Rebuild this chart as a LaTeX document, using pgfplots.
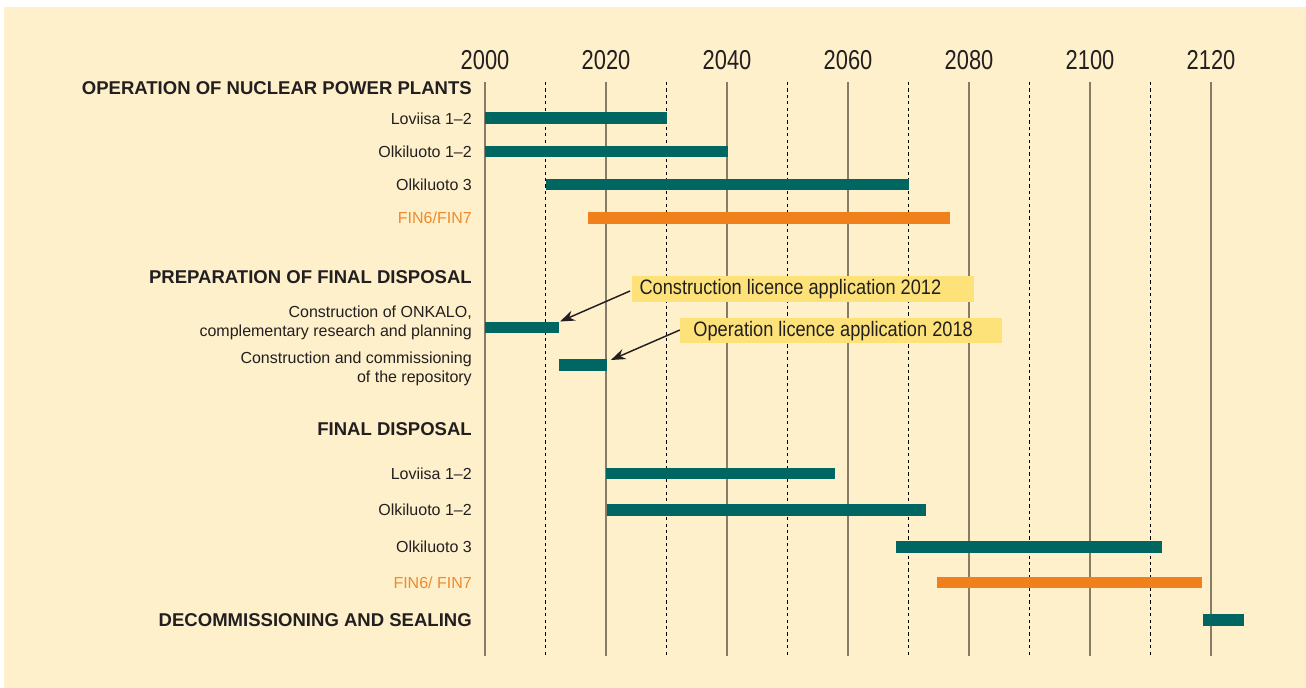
\documentclass[border=0pt]{standalone}
\usepackage{pgfplots}
\pgfplotsset{compat=1.18}
\usepackage{fontspec}
\setmainfont{Liberation Sans}
\newfontfamily\yearfont[FakeStretch=0.8]{Liberation Sans}
\newfontfamily\notefont[FakeStretch=0.87]{Liberation Sans}
\usetikzlibrary{arrows.meta}

\definecolor{cream}{HTML}{FEF0CB}
\definecolor{tealbar}{HTML}{006661}
\definecolor{orangebar}{HTML}{EF801C}
\definecolor{orangetxt}{HTML}{F08A2C}
\definecolor{notebox}{HTML}{FDE27A}
\definecolor{gridgray}{HTML}{857D68}
\definecolor{txt}{HTML}{231F20}

% x in years, y in pixel rows of the original (top = 0)
\begin{document}
\begin{tikzpicture}[
    tbar/.style={draw=tealbar, line width=8.6pt, line cap=butt},
    obar/.style={draw=orangebar, line width=8.6pt, line cap=butt},
    lab/.style={anchor=east, inner sep=0pt, align=right, text=txt,
        font=\fontsize{12}{14.2}\selectfont},
    head/.style={anchor=east, inner sep=0pt, text=txt,
        font=\bfseries\fontsize{13.9}{16}\selectfont},
]
\begin{axis}[
    scale only axis, width=979.5pt, height=516pt,
    xmin=1919.83, xmax=2135.7, ymin=0, ymax=688, y dir=reverse,
    axis lines=none, clip=false,
]
\fill[white] (axis cs:1919.83,0) rectangle (axis cs:2135.7,688);
\fill[cream] (axis cs:1920.5,7) rectangle (axis cs:2135.7,688);

% grid
\pgfplotsinvokeforeach{2010,2030,...,2110}{
  \draw[black, line width=0.7pt, dash pattern=on 2.4pt off 2.4pt]
    (axis cs:#1,82) -- (axis cs:#1,656);
}
\pgfplotsinvokeforeach{2000,2020,...,2120}{
  \draw[gridgray, line width=1.3pt] (axis cs:#1,82) -- (axis cs:#1,656);
  \node[text=txt, font=\yearfont\fontsize{20.5}{24}\selectfont]
    at (axis cs:#1,60) {#1};
}

% operation of nuclear power plants
\addplot[tbar, no marks] coordinates {(2000,118) (2030,118)};
\addplot[tbar, no marks] coordinates {(2000,151.5) (2040.2,151.5)};
\addplot[tbar, no marks] coordinates {(2010,184.5) (2070,184.5)};
\addplot[obar, no marks] coordinates {(2017.1,217.8) (2076.9,217.8)};
% preparation of final disposal
\addplot[tbar, no marks] coordinates {(2000,327.7) (2012.2,327.7)};
\addplot[tbar, no marks] coordinates {(2012.2,365.2) (2020.2,365.2)};
% final disposal
\addplot[tbar, no marks] coordinates {(2020,473.5) (2057.8,473.5)};
\addplot[tbar, no marks] coordinates {(2020.2,510) (2072.9,510)};
\addplot[tbar, no marks] coordinates {(2067.9,546.8) (2111.9,546.8)};
\addplot[obar, no marks] coordinates {(2074.7,582.7) (2118.5,582.7)};
% decommissioning
\addplot[tbar, no marks] coordinates {(2118.6,620) (2125.5,620)};

% row labels
\node[head] at (axis cs:1997.85,88) {OPERATION OF NUCLEAR POWER PLANTS};
\node[lab] at (axis cs:1997.85,118.5) {Loviisa 1--2};
\node[lab] at (axis cs:1997.85,151.5) {Olkiluoto 1--2};
\node[lab] at (axis cs:1997.85,185) {Olkiluoto 3};
\node[lab, text=orangetxt] at (axis cs:1997.85,218) {FIN6/FIN7};
\node[head] at (axis cs:1997.85,277.5) {PREPARATION OF FINAL DISPOSAL};
\node[lab] at (axis cs:1997.85,322.5) {Construction of ONKALO,\\complementary research and planning};
\node[lab] at (axis cs:1997.85,369) {Construction and commissioning\\of the repository};
\node[head] at (axis cs:1997.85,429) {FINAL DISPOSAL};
\node[lab] at (axis cs:1997.85,473.5) {Loviisa 1--2};
\node[lab] at (axis cs:1997.85,510) {Olkiluoto 1--2};
\node[lab] at (axis cs:1997.85,547) {Olkiluoto 3};
\node[lab, text=orangetxt] at (axis cs:1997.85,583) {FIN6/ FIN7};
\node[head] at (axis cs:1997.85,620) {DECOMMISSIONING AND SEALING};

% notes
\fill[notebox] (axis cs:2024.3,276) rectangle (axis cs:2080.83,302);
\node[anchor=west, inner sep=0pt, text=txt, font=\notefont\fontsize{15.7}{18}\selectfont]
  at (axis cs:2025.5,289.5) {Construction licence application 2012};
\fill[notebox] (axis cs:2032.23,318) rectangle (axis cs:2085.45,343);
\node[anchor=west, inner sep=0pt, text=txt, font=\notefont\fontsize{15.7}{18}\selectfont]
  at (axis cs:2034.4,331) {Operation licence application 2018};
\draw[txt, line width=1.1pt, -{Stealth[length=11pt, width=8pt]}]
  (axis cs:2023.97,291) -- (axis cs:2012.4,321.5);
\draw[txt, line width=1.1pt, -{Stealth[length=11pt, width=8pt]}]
  (axis cs:2032.2,330) -- (axis cs:2020.8,360);
\end{axis}
\end{tikzpicture}
\end{document}
